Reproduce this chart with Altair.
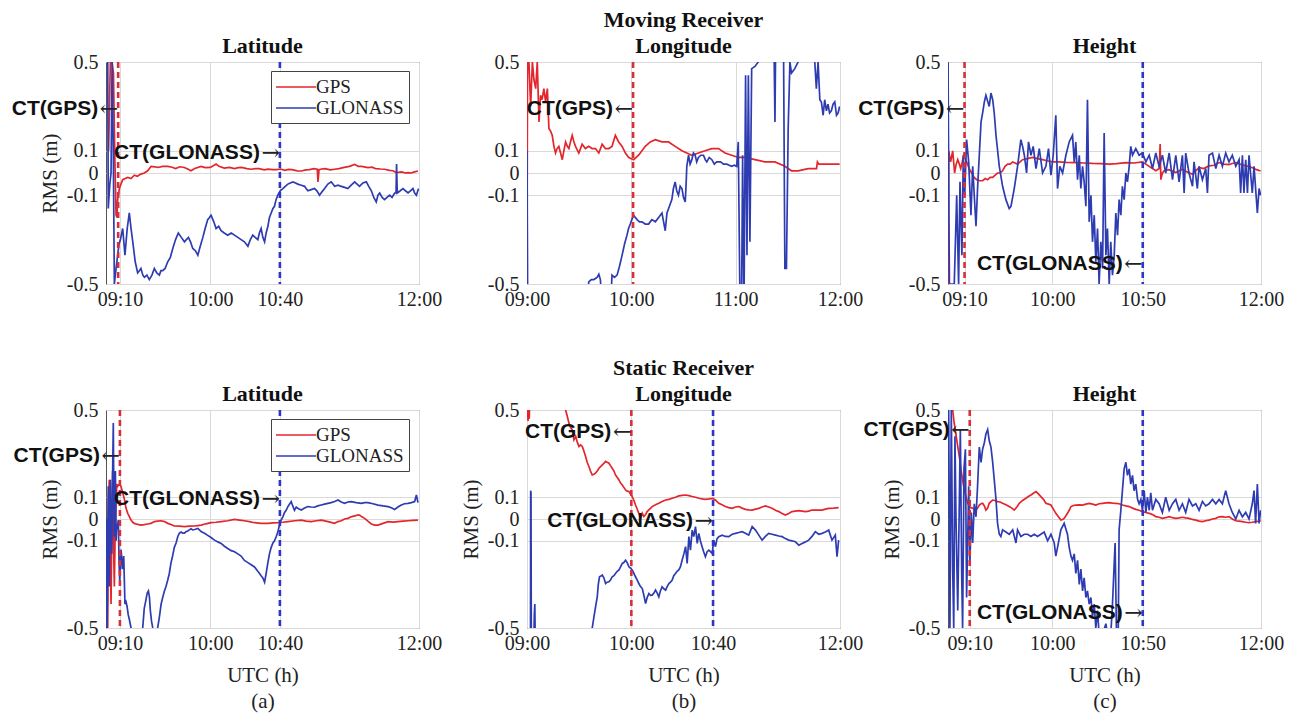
import altair as alt
import pandas as pd

# ---------------- data: (minutes after 09:00, RMS in m) ----------------
TA_GPS = [(1.5, 0.1), (2.5, 0.5), (3.5, 0.5), (4.3, 0.45), (5.0, 0.1), (5.8, -0.19), (6.3, -0.2), (6.7, -0.12), (7.7, -0.07), (8.6, -0.05), (9.6, -0.03), (11, -0.025), (12.5, -0.02), (14.4, -0.025), (16.3, -0.01), (18, -0.015), (20.1, -0.005), (22, 0.0), (24, 0.01), (25.9, 0.03), (28, 0.028), (30, 0.025), (32.5, 0.03), (35.5, 0.03), (38, 0.026), (40, 0.02), (42.5, 0.028), (45.1, 0.025), (47, 0.018), (48.9, 0.01), (51, 0.02), (54.7, 0.03), (57, 0.024), (60, 0.025), (63.3, 0.04), (65, 0.03), (68, 0.022), (71, 0.025), (73.9, 0.02), (76, 0.024), (78, 0.025), (81, 0.02), (83.5, 0.017), (86, 0.02), (88, 0.02), (91, 0.014), (93.1, 0.017), (96, 0.015), (98, 0.015), (100.5, 0.018), (102.7, 0.012), (105, 0.016), (107, 0.015), (110, 0.01), (112.3, 0.009), (115, 0.014), (117, 0.015), (119.5, 0.02), (121.5, 0.017), (121.9, -0.04), (122.5, 0.015), (124, 0.018), (126, 0.02), (129, 0.014), (131.5, 0.017), (134, 0.02), (137, 0.025), (140, 0.03), (143, 0.039), (145, 0.03), (147, 0.03), (150.6, 0.024), (153, 0.026), (155, 0.02), (158, 0.018), (160.2, 0.017), (163, 0.012), (165, 0.01), (167, 0.002), (170, 0.005), (172, 0.0), (173.7, 0.002), (175.5, 0.0), (177, 0.004), (179.4, 0.009)]
TA_GLO = [(0.5, 0.5), (1.0, 0.5), (1.3, -0.16), (2.2, -0.05), (2.9, 0.0), (3.5, 0.5), (4.2, 0.1), (4.8, -0.5), (5.5, -0.45), (6.7, -0.37), (7.5, -0.32), (8.3, -0.30), (9.6, -0.25), (10.9, -0.37), (12.2, -0.25), (13.4, -0.18), (14.4, -0.25), (15.4, -0.31), (16.8, -0.4), (18.2, -0.45), (19.2, -0.44), (20.1, -0.43), (21.2, -0.46), (22.1, -0.47), (23.5, -0.46), (24.9, -0.48), (26.4, -0.46), (27.8, -0.43), (29.2, -0.45), (30.7, -0.46), (31.6, -0.44), (32.6, -0.44), (34, -0.43), (35.5, -0.40), (37, -0.38), (38.4, -0.34), (40, -0.30), (41.6, -0.27), (43.3, -0.29), (45.1, -0.31), (46.2, -0.30), (47.4, -0.29), (48.6, -0.31), (49.9, -0.34), (51.4, -0.35), (52.8, -0.37), (54.2, -0.33), (55.7, -0.29), (57, -0.25), (58.5, -0.21), (59.5, -0.20), (60.4, -0.19), (62, -0.22), (63.3, -0.25), (64.8, -0.24), (66.2, -0.26), (68, -0.27), (70, -0.28), (72, -0.27), (73.9, -0.28), (75.8, -0.29), (77.7, -0.30), (79.6, -0.31), (81.6, -0.33), (83, -0.30), (84.4, -0.28), (85.8, -0.29), (87.3, -0.30), (88.2, -0.27), (89.2, -0.25), (90.2, -0.29), (91.2, -0.31), (92.1, -0.27), (93.1, -0.24), (94, -0.20), (95, -0.18), (96, -0.16), (96.9, -0.15), (97.8, -0.12), (98.8, -0.10), (100.2, -0.08), (101.7, -0.07), (103.1, -0.06), (104.6, -0.05), (106, -0.045), (107.5, -0.04), (109, -0.045), (110.3, -0.05), (112.3, -0.055), (114.2, -0.06), (115.1, -0.07), (116.1, -0.08), (118, -0.075), (119.9, -0.07), (121.3, -0.08), (122.8, -0.10), (124.2, -0.085), (125.7, -0.07), (127.6, -0.05), (129.5, -0.04), (130.5, -0.05), (131.5, -0.06), (133.4, -0.055), (135.3, -0.06), (137.2, -0.065), (139.1, -0.07), (141, -0.055), (143, -0.04), (144.4, -0.05), (145.8, -0.06), (147.7, -0.045), (149.7, -0.04), (151.1, -0.06), (152.6, -0.08), (154, -0.11), (155.4, -0.13), (156.4, -0.10), (157.4, -0.09), (158.8, -0.11), (160.2, -0.12), (161.6, -0.11), (163.1, -0.10), (164.5, -0.11), (166, -0.09), (166.8, -0.09), (167.1, 0.04), (167.5, -0.09), (169.2, -0.08), (170.8, -0.07), (172.2, -0.08), (173.7, -0.09), (175.1, -0.08), (176.5, -0.07), (177.5, -0.09), (178.5, -0.10), (179.3, -0.08), (179.8, -0.07)]

TB_GPS = [(0.0, -0.5), (0.3, 0.5), (1.1, 0.5), (2.1, 0.30), (3.1, 0.5), (4.0, 0.42), (5.0, 0.38), (5.9, 0.5), (6.9, 0.23), (7.8, 0.35), (8.7, 0.33), (9.7, 0.38), (10.7, 0.32), (11.7, 0.38), (12.6, 0.20), (13.5, 0.19), (14.5, 0.17), (15.5, 0.12), (16.4, 0.09), (17.3, 0.11), (18.3, 0.12), (19.3, 0.09), (20.3, 0.06), (21.2, 0.10), (22.2, 0.14), (23.2, 0.12), (24.1, 0.11), (25, 0.14), (26, 0.17), (27, 0.14), (27.9, 0.12), (29.8, 0.09), (31.7, 0.13), (33.6, 0.11), (35.5, 0.12), (37.5, 0.11), (39.4, 0.11), (41.3, 0.09), (43.2, 0.13), (45.1, 0.11), (47, 0.11), (48.9, 0.12), (50.8, 0.17), (52.7, 0.14), (54.7, 0.12), (56.6, 0.09), (58.5, 0.07), (61.3, 0.06), (64.2, 0.08), (66.1, 0.10), (68, 0.12), (70.9, 0.14), (73.8, 0.15), (77.6, 0.14), (81.4, 0.14), (85.2, 0.12), (89.1, 0.10), (91.9, 0.09), (94.8, 0.08), (98.6, 0.09), (102.4, 0.10), (106.3, 0.11), (110.1, 0.11), (113.9, 0.09), (117.7, 0.08), (121.5, 0.07), (125.4, 0.07), (131.1, 0.06), (136.8, 0.05), (142.6, 0.05), (148.3, 0.03), (152.1, 0.01), (155.9, 0.01), (161.7, 0.02), (165.5, 0.02), (166.5, 0.02), (167, 0.05), (167.8, 0.04), (173.1, 0.04), (179.8, 0.04)]
TB_GLO = [(0.0, 0.1), (0.4, -0.6), (35.0, -0.6), (35.5, -0.49), (37, -0.48), (38.4, -0.48), (40.3, -0.47), (41.3, -0.456), (42.2, -0.48), (43.2, -0.6), (48, -0.6), (48.9, -0.46), (50.3, -0.47), (51.8, -0.46), (53.2, -0.42), (54.7, -0.37), (56.1, -0.32), (57.5, -0.28), (58.4, -0.25), (59.4, -0.23), (60.3, -0.21), (61.3, -0.19), (62.3, -0.2), (63.3, -0.21), (64.7, -0.22), (66.1, -0.22), (68, -0.23), (69.9, -0.23), (71.8, -0.21), (73.8, -0.22), (75.7, -0.2), (77.6, -0.18), (79.5, -0.26), (80.5, -0.18), (81.9, -0.15), (83.3, -0.12), (84.2, -0.07), (85.2, -0.04), (86.1, -0.08), (87.1, -0.10), (88.1, -0.06), (89.1, -0.07), (90, -0.11), (91, -0.13), (91.5, -0.05), (91.9, 0.03), (92.9, 0.08), (93.8, 0.04), (94.8, 0.06), (95.7, 0.09), (96.7, 0.08), (97.6, 0.05), (98.6, 0.07), (100, 0.08), (101.5, 0.08), (102.5, 0.06), (103.4, 0.05), (104.8, 0.07), (106.3, 0.06), (107.7, 0.04), (109.1, 0.05), (111.3, 0.05), (113, 0.04), (114.9, 0.04), (116.3, 0.035), (117.7, 0.03), (119.2, 0.035), (120.6, 0.03), (121.5, 0.14), (122.5, -0.6), (123.4, -0.6), (124.0, 0.08), (124.8, -0.6), (125.7, 0.44), (126.5, -0.37), (127.3, 0.44), (128.2, -0.31), (129.2, 0.47), (131.1, 0.48), (133, 0.5), (134, 0.6), (142, 0.6), (142.6, 0.23), (143, 0.6), (144, 0.6), (147.5, 0.6), (148.3, -0.43), (149.2, -0.43), (150.2, 0.2), (151.2, 0.5), (152.1, 0.45), (154, 0.47), (155.9, 0.5), (157.8, 0.6), (165, 0.6), (165.5, 0.5), (166.4, 0.38), (167.4, 0.5), (168.4, 0.33), (169.3, 0.32), (170.3, 0.26), (171.2, 0.33), (172.2, 0.28), (173.1, 0.31), (174, 0.27), (175, 0.28), (176, 0.31), (177, 0.32), (178, 0.26), (178.9, 0.27), (179.8, 0.30)]

TC_GPS = [(0.1, -0.5), (0.4, 0.1), (1.5, 0.05), (2.7, 0.1), (3.8, 0.0), (4.7, 0.04), (5.6, 0.06), (6.5, 0.04), (7.3, 0.02), (8.2, 0.05), (9.0, 0.08), (10.7, 0.05), (12.2, 0.02), (13.6, 0.0), (15, -0.02), (16.5, -0.03), (18.2, -0.035), (19.9, -0.035), (21.4, -0.025), (22.8, -0.03), (24.3, -0.02), (25.7, -0.02), (27.1, -0.01), (28.5, 0.0), (30, 0.0), (31.4, 0.01), (32.8, 0.03), (34.3, 0.04), (35.8, 0.04), (37.2, 0.05), (38.6, 0.045), (40, 0.04), (41.4, 0.05), (42.9, 0.06), (45.7, 0.065), (48.6, 0.07), (51.5, 0.065), (54.4, 0.06), (57, 0.055), (60, 0.05), (64, 0.05), (68, 0.048), (73.5, 0.047), (78, 0.045), (83.1, 0.043), (88, 0.042), (92.7, 0.04), (97, 0.042), (102.3, 0.047), (107, 0.045), (111.8, 0.05), (115.7, 0.03), (119.5, 0.01), (121.5, 0.02), (122.0, 0.13), (122.4, -0.03), (123.3, 0.0), (124.3, 0.01), (127, 0.015), (131, 0.002), (134.8, 0.017), (137.5, 0.005), (140.6, -0.006), (142.5, 0.01), (144.4, 0.025), (147, 0.02), (150.1, 0.032), (153, 0.035), (155.9, 0.047), (158.5, 0.04), (161.6, 0.038), (163.5, 0.043), (165.5, 0.047), (168, 0.04), (171.2, 0.032), (173, 0.03), (175, 0.024), (177.5, 0.015), (179.8, 0.009)]
TC_GLO = [(0, 0.5), (0.8, -0.5), (3.6, -0.5), (5.0, -0.10), (6.1, -0.5), (6.9, -0.04), (8.0, -0.37), (8.8, 0.08), (9.6, -0.10), (10.7, 0.15), (11.9, 0.05), (13.2, -0.19), (14.2, 0.03), (15.1, -0.10), (16.1, -0.24), (17.0, -0.07), (18.0, 0.08), (19.0, 0.23), (19.9, 0.27), (20.9, 0.32), (21.8, 0.35), (23.7, 0.30), (24.7, 0.36), (25.7, 0.33), (26.6, 0.27), (27.6, 0.17), (29.5, 0.03), (31.4, -0.06), (33.3, -0.12), (35.2, -0.16), (36.2, -0.15), (38.1, -0.07), (40.0, 0.03), (41.9, 0.15), (42.9, 0.12), (43.9, 0.08), (45.2, 0.00), (46.3, 0.14), (47.7, 0.08), (49.0, 0.12), (50.6, 0.02), (52.5, 0.11), (54.4, 0.00), (56.3, 0.03), (57.8, 0.11), (59.2, -0.01), (60.5, 0.08), (62.0, 0.26), (63.0, -0.07), (64.3, 0.03), (65.9, 0.00), (67.8, 0.08), (69.7, 0.14), (71.6, 0.17), (72.6, 0.05), (73.5, 0.14), (74.5, -0.03), (75.5, 0.08), (76.4, -0.07), (77.4, 0.03), (78.3, -0.04), (79.3, -0.15), (80.2, 0.33), (81.2, -0.22), (82.2, -0.10), (83.1, -0.31), (84.1, -0.19), (85.0, -0.40), (86.0, -0.25), (86.9, -0.5), (87.9, -0.31), (88.9, -0.43), (89.8, 0.18), (90.8, -0.37), (91.7, -0.25), (92.7, -0.5), (93.6, -0.31), (94.6, -0.46), (95.6, -0.37), (96.5, -0.18), (97.5, -0.28), (98.4, -0.12), (99.4, -0.19), (100.3, -0.06), (101.3, -0.12), (102.3, 0.00), (103.2, -0.04), (104.2, 0.03), (105.1, 0.12), (106.1, 0.08), (108.0, 0.11), (109.9, 0.08), (111.8, 0.09), (113.8, 0.05), (115.7, 0.08), (117.6, 0.02), (119.5, 0.09), (121.4, 0.03), (123.3, 0.08), (125.2, 0.00), (127.2, 0.09), (129.1, -0.03), (131.0, 0.08), (132.9, -0.04), (134.8, 0.08), (135.8, -0.09), (136.7, 0.09), (138.6, 0.00), (140.6, -0.06), (141.5, 0.05), (143.4, -0.07), (144.4, 0.03), (146.3, -0.03), (148.2, 0.02), (149.2, -0.09), (150.1, 0.08), (152.1, 0.09), (154.0, 0.02), (155.9, 0.08), (157.8, 0.03), (159.7, 0.09), (161.6, 0.05), (163.5, 0.08), (165.5, 0.03), (167.4, 0.06), (168.3, -0.09), (169.3, 0.08), (170.2, -0.09), (171.2, 0.06), (172.2, -0.09), (173.1, 0.08), (175.0, -0.09), (176.0, 0.03), (177.9, -0.18), (178.9, -0.07), (179.8, -0.10)]

BA_GPS = [(0.5, -0.5), (1.0, -0.5), (1.5, 0.10), (1.9, 0.18), (2.4, -0.1), (2.9, -0.39), (3.4, 0.0), (3.8, 0.22), (4.3, -0.1), (4.8, -0.31), (5.3, -0.05), (5.8, 0.07), (6.2, 0.16), (6.7, 0.15), (7.7, 0.16), (8.6, 0.15), (9.6, 0.12), (10.6, 0.09), (11.5, 0.05), (12.5, 0.026), (13.5, 0.01), (14.4, -0.005), (15.4, -0.015), (16.3, -0.02), (18.2, -0.025), (20.1, -0.028), (22, -0.026), (24, -0.023), (25.9, -0.02), (27.8, -0.012), (29.7, -0.01), (31.7, -0.008), (33.6, -0.012), (35.5, -0.02), (37.4, -0.025), (39.3, -0.032), (42.2, -0.033), (45.1, -0.035), (48, -0.033), (50.9, -0.032), (52.8, -0.03), (54.7, -0.028), (57.5, -0.022), (60.4, -0.017), (63.3, -0.015), (66.2, -0.012), (70, -0.008), (73.9, -0.002), (76.7, -0.005), (79.6, -0.008), (82.5, -0.012), (85.4, -0.017), (89.2, -0.02), (93.1, -0.02), (96, -0.018), (98.8, -0.017), (101.7, -0.015), (104.6, -0.012), (108.5, -0.008), (112.3, -0.005), (115.1, -0.01), (118, -0.012), (121, -0.008), (123.8, -0.005), (127.7, -0.012), (131.5, -0.02), (133.4, -0.012), (135.3, -0.008), (137.2, 0.0), (139.1, 0.003), (141, 0.01), (143, 0.014), (144.4, 0.018), (145.8, 0.018), (147.2, 0.01), (148.7, 0.003), (150.6, -0.01), (152.6, -0.023), (154.5, -0.028), (156.4, -0.028), (159.3, -0.02), (162.2, -0.012), (165, -0.014), (167.9, -0.012), (170.8, -0.01), (173.7, -0.008), (176.5, -0.006), (179.4, -0.005)]
BA_GLO = [(0.3, 0.0), (0.6, -0.5), (1.0, -0.1), (1.3, 0.15), (1.9, -0.31), (2.5, 0.18), (2.9, -0.05), (3.3, -0.16), (3.8, 0.2), (4.2, 0.44), (4.5, 0.1), (4.8, -0.08), (5.1, 0.1), (5.4, 0.22), (5.8, -0.1), (6.1, -0.05), (6.6, -0.03), (7.1, -0.005), (7.5, -0.2), (7.9, -0.28), (8.3, -0.2), (8.6, -0.14), (9.0, -0.17), (9.4, -0.23), (9.8, -0.2), (10.2, -0.17), (10.9, -0.39), (11.5, -0.38), (12.1, -0.40), (12.8, -0.44), (13.4, -0.46), (14.4, -0.5), (14.8, -0.53), (20.5, -0.55), (21.1, -0.5), (22.0, -0.41), (23.0, -0.37), (23.7, -0.34), (24.4, -0.33), (25.0, -0.36), (25.5, -0.42), (26.2, -0.47), (26.9, -0.5), (27.8, -0.53), (29.7, -0.5), (30.7, -0.45), (31.7, -0.39), (32.6, -0.36), (33.6, -0.33), (34.5, -0.31), (35.5, -0.28), (36.4, -0.25), (37.4, -0.2), (38.3, -0.17), (39.3, -0.13), (40.3, -0.11), (41.3, -0.08), (42.2, -0.065), (43.2, -0.06), (44.1, -0.065), (45.1, -0.065), (46, -0.058), (47, -0.055), (47.9, -0.05), (48.9, -0.045), (49.9, -0.05), (50.9, -0.048), (51.8, -0.046), (52.8, -0.043), (53.7, -0.05), (54.7, -0.058), (56.6, -0.065), (58.5, -0.075), (60.4, -0.085), (62.4, -0.097), (64.3, -0.105), (66.2, -0.112), (68.1, -0.125), (70, -0.135), (72, -0.145), (73.9, -0.15), (75.8, -0.16), (77.7, -0.17), (79.6, -0.19), (81.6, -0.2), (83.5, -0.21), (85.4, -0.22), (87.3, -0.24), (88.3, -0.25), (89.2, -0.26), (90.2, -0.27), (91.2, -0.29), (92.1, -0.25), (93.1, -0.20), (94, -0.16), (95, -0.13), (96, -0.11), (96.9, -0.10), (97.9, -0.08), (98.8, -0.06), (99.7, -0.03), (100.7, -0.005), (101.7, 0.01), (102.7, 0.03), (103.6, 0.04), (104.6, 0.057), (105.5, 0.068), (106.5, 0.08), (107.4, 0.06), (108.4, 0.04), (109.4, 0.055), (110.3, 0.049), (111.3, 0.045), (112.3, 0.041), (114.2, 0.05), (116.1, 0.057), (118, 0.055), (119.9, 0.054), (121.8, 0.06), (123.8, 0.064), (125.7, 0.068), (127.6, 0.072), (129.5, 0.075), (131.5, 0.08), (133.4, 0.087), (135.3, 0.078), (137.2, 0.072), (139.1, 0.078), (141, 0.08), (143.9, 0.075), (146.8, 0.072), (148.7, 0.075), (150.6, 0.075), (153.5, 0.07), (156.4, 0.064), (159.3, 0.06), (162.2, 0.057), (164.1, 0.052), (166, 0.044), (167.9, 0.055), (169.8, 0.064), (171.7, 0.07), (173.7, 0.072), (175.6, 0.075), (177.5, 0.08), (178.5, 0.11), (179.4, 0.075)]

BB_GPS = [(0.0, 0.6), (0.3, 0.5), (0.6, 0.45), (0.9, 0.55), (1.3, 0.46), (1.6, 0.6), (21.5, 0.6), (22.2, 0.5), (23.2, 0.47), (24.1, 0.44), (25, 0.42), (26.0, 0.41), (27.0, 0.363), (28.0, 0.379), (29, 0.35), (29.9, 0.333), (30.8, 0.34), (31.8, 0.333), (32.8, 0.31), (33.7, 0.287), (34.6, 0.26), (35.6, 0.241), (36.5, 0.22), (37.5, 0.202), (38.5, 0.205), (39.4, 0.21), (40.4, 0.22), (41.4, 0.233), (42.3, 0.24), (43.3, 0.248), (44.2, 0.255), (45.2, 0.264), (46.1, 0.26), (47.1, 0.256), (48, 0.245), (49.0, 0.233), (50, 0.22), (50.9, 0.202), (51.9, 0.19), (52.9, 0.179), (53.8, 0.165), (54.8, 0.156), (55.7, 0.145), (56.7, 0.133), (57.6, 0.128), (58.6, 0.126), (59.5, 0.115), (60.5, 0.103), (61.5, 0.085), (62.4, 0.064), (63.4, 0.045), (64.3, 0.026), (65.3, 0.003), (66.3, 0.026), (67.2, 0.011), (68.2, 0.02), (69.1, 0.034), (70.5, 0.045), (72.0, 0.057), (73.9, 0.065), (75.8, 0.072), (77.7, 0.08), (79.7, 0.087), (81.6, 0.09), (83.5, 0.095), (85.4, 0.1), (87.3, 0.106), (89.2, 0.108), (91.2, 0.11), (93.1, 0.107), (95.0, 0.103), (96.9, 0.1), (98.8, 0.095), (100.7, 0.092), (102.6, 0.09), (104.8, 0.092), (107.0, 0.095), (108.6, 0.085), (110.3, 0.072), (112.2, 0.065), (114.1, 0.057), (116, 0.052), (118.0, 0.049), (119.9, 0.055), (121.8, 0.057), (123.7, 0.05), (125.6, 0.044), (127.5, 0.042), (129.5, 0.041), (131.4, 0.045), (133.3, 0.049), (135.2, 0.055), (137.1, 0.06), (139, 0.055), (140.9, 0.049), (142.9, 0.04), (144.8, 0.034), (146.7, 0.025), (148.6, 0.018), (150.5, 0.025), (152.4, 0.034), (154.3, 0.036), (156.3, 0.038), (158.2, 0.036), (160.1, 0.034), (162, 0.036), (163.9, 0.041), (166.8, 0.041), (169.7, 0.041), (171.6, 0.045), (173.5, 0.049), (176.4, 0.05), (179.2, 0.052)]
BB_GLO = [(0, -0.6), (2.0, -0.6), (2.1, 0.13), (2.3, 0.12), (2.5, -0.6), (3.8, -0.6), (4.2, -0.44), (4.5, -0.39), (4.8, -0.6), (37.0, -0.6), (37.5, -0.5), (38.5, -0.449), (39.5, -0.4), (40.4, -0.357), (41.0, -0.3), (41.7, -0.265), (42.5, -0.262), (43.3, -0.257), (44.2, -0.27), (45.2, -0.296), (46.1, -0.29), (47.1, -0.288), (48, -0.28), (49.0, -0.265), (50, -0.26), (50.9, -0.25), (51.9, -0.24), (52.9, -0.234), (53.8, -0.22), (54.8, -0.204), (55.7, -0.2), (56.7, -0.189), (57.6, -0.2), (58.6, -0.219), (59.5, -0.225), (60.5, -0.234), (61.5, -0.25), (62.4, -0.265), (63.4, -0.28), (64.3, -0.296), (65.3, -0.31), (66.3, -0.319), (67.2, -0.35), (68.2, -0.388), (69.1, -0.36), (70.1, -0.342), (71, -0.35), (72.0, -0.349), (73.0, -0.34), (73.9, -0.326), (74.9, -0.34), (75.8, -0.357), (76.7, -0.33), (77.7, -0.311), (78.7, -0.32), (79.7, -0.326), (80.6, -0.31), (81.6, -0.296), (82.5, -0.29), (83.5, -0.28), (84.4, -0.26), (85.4, -0.25), (86.3, -0.24), (87.3, -0.234), (88.2, -0.22), (89.2, -0.189), (90.2, -0.16), (91.2, -0.127), (92.1, -0.204), (93.1, -0.081), (94.0, -0.143), (95.0, -0.051), (95.9, -0.081), (96.9, -0.035), (97.9, -0.112), (98.8, -0.066), (99.7, -0.1), (100.7, -0.127), (101.6, -0.15), (102.6, -0.173), (103.6, -0.15), (104.6, -0.143), (105.5, -0.15), (106.5, -0.158), (107.4, -0.097), (108.4, -0.127), (109.3, -0.09), (110.3, -0.081), (112.2, -0.074), (114.1, -0.08), (116.0, -0.081), (118, -0.07), (119.9, -0.066), (121.8, -0.062), (123.7, -0.058), (125.6, -0.065), (127.5, -0.074), (129.5, -0.035), (131.4, -0.051), (133.3, -0.074), (135.2, -0.097), (137.1, -0.08), (139.0, -0.066), (140.9, -0.07), (142.9, -0.074), (144.8, -0.078), (146.7, -0.081), (148.6, -0.09), (150.5, -0.097), (152.4, -0.1), (154.3, -0.104), (156.3, -0.12), (158.2, -0.112), (160.1, -0.105), (162.0, -0.097), (163.9, -0.08), (165.8, -0.058), (167.8, -0.07), (169.7, -0.066), (171.6, -0.06), (173.5, -0.051), (175.4, -0.097), (177.3, -0.074), (178.3, -0.173), (179.2, -0.097)]

BC_GPS = [(1.5, 0.6), (2.7, 0.5), (3.4, 0.45), (4.2, 0.409), (4.9, 0.37), (5.6, 0.333), (6.5, 0.287), (7.5, 0.225), (8.4, 0.179), (9.4, 0.133), (10.3, 0.103), (11.3, 0.072), (12.3, 0.057), (13.2, 0.052), (14.2, 0.049), (15.1, 0.045), (16.1, 0.041), (17.0, 0.05), (18.0, 0.064), (19.0, 0.07), (19.9, 0.072), (20.9, 0.06), (21.8, 0.041), (22.8, 0.05), (23.7, 0.072), (24.7, 0.08), (25.7, 0.087), (27.1, 0.085), (28.5, 0.08), (30, 0.078), (31.4, 0.072), (33.3, 0.065), (35.2, 0.057), (36.7, 0.05), (38.1, 0.041), (39.6, 0.055), (41.0, 0.072), (42.9, 0.085), (44.8, 0.095), (46.2, 0.103), (47.7, 0.11), (49.1, 0.118), (50.6, 0.126), (52, 0.115), (53.4, 0.103), (54.9, 0.09), (56.3, 0.072), (57.8, 0.068), (59.2, 0.064), (60.6, 0.045), (62.0, 0.026), (63.5, 0.01), (64.9, -0.005), (65.9, -0.002), (66.8, 0.003), (67.8, 0.015), (68.7, 0.026), (69.7, 0.04), (70.7, 0.057), (72.1, 0.062), (73.5, 0.064), (75.5, 0.065), (77.4, 0.064), (79.3, 0.068), (81.2, 0.072), (83.1, 0.068), (85.0, 0.064), (86.9, 0.07), (88.9, 0.072), (90.8, 0.074), (92.7, 0.075), (94.6, 0.073), (96.5, 0.072), (98.4, 0.07), (100.3, 0.064), (102.3, 0.06), (104.2, 0.057), (106.1, 0.05), (108.0, 0.044), (109.9, 0.04), (111.8, 0.034), (113.8, 0.03), (115.7, 0.026), (117.6, 0.02), (119.5, 0.011), (121.4, 0.008), (123.3, 0.003), (125.2, 0.006), (127.2, 0.011), (129.1, 0.006), (131.0, 0.003), (132.9, 0.005), (134.8, 0.008), (136.7, 0.005), (138.6, 0.003), (140.5, -0.002), (142.5, -0.005), (144.4, -0.01), (146.3, -0.012), (148.2, -0.008), (150.1, -0.005), (152.1, 0.0), (154.0, 0.003), (155.9, 0.01), (157.8, 0.011), (159.7, 0.008), (161.6, 0.011), (163.5, 0.0), (165.5, -0.008), (167.4, -0.01), (169.3, -0.012), (171.2, -0.015), (173.1, -0.017), (175.0, -0.015), (177.0, -0.012), (179.8, -0.008)]
BC_GLO = [(0.0, 0.5), (0.4, 0.5), (1.1, -0.5), (1.9, 0.5), (2.7, -0.23), (3.3, -0.5), (4.0, 0.38), (4.6, 0.0), (5.6, -0.42), (6.5, 0.07), (7.1, 0.41), (7.9, -0.27), (8.4, -0.5), (9.2, 0.23), (10.0, 0.32), (10.7, -0.36), (11.3, -0.11), (11.9, 0.15), (12.6, -0.2), (13.4, 0.03), (14.2, -0.11), (15.1, 0.07), (16.1, 0.01), (17.0, 0.15), (18.0, 0.33), (19.0, 0.26), (19.9, 0.32), (20.9, 0.35), (21.8, 0.39), (22.8, 0.41), (23.7, 0.36), (24.7, 0.33), (25.7, 0.26), (26.6, 0.18), (27.6, 0.09), (28.5, -0.02), (29.5, -0.07), (30.4, -0.08), (31.4, -0.05), (33.3, -0.06), (35.2, -0.07), (37.2, -0.05), (39.1, -0.11), (40.0, -0.05), (41.9, -0.08), (43.9, -0.07), (45.8, -0.07), (47.7, -0.08), (49.6, -0.07), (51.5, -0.08), (53.4, -0.07), (55.3, -0.06), (57.3, -0.1), (59.2, -0.07), (61.1, -0.11), (62.0, -0.17), (63.0, -0.13), (64.9, -0.05), (66.8, -0.02), (68.7, -0.07), (69.7, -0.13), (70.7, -0.17), (71.6, -0.19), (72.6, -0.16), (73.5, -0.25), (74.5, -0.19), (75.5, -0.30), (76.4, -0.23), (77.4, -0.33), (78.3, -0.27), (79.3, -0.36), (80.2, -0.33), (81.2, -0.39), (82.2, -0.36), (83.1, -0.45), (84.1, -0.39), (85.0, -0.5), (86.0, -0.42), (86.9, -0.53), (88.9, -0.53), (90.8, -0.48), (91.7, -0.53), (93.6, -0.53), (94.6, -0.39), (95.6, -0.2), (96.1, -0.11), (96.9, -0.53), (97.9, -0.53), (98.4, -0.05), (99.4, 0.04), (100.3, 0.13), (101.3, 0.23), (102.3, 0.26), (103.2, 0.2), (104.2, 0.23), (105.1, 0.16), (106.1, 0.2), (107.0, 0.13), (108.0, 0.16), (109.0, 0.09), (109.9, 0.07), (110.9, 0.09), (111.8, 0.04), (112.8, 0.13), (113.8, 0.03), (114.7, 0.1), (115.7, 0.04), (116.6, 0.12), (117.6, 0.04), (119.5, 0.09), (121.4, 0.07), (123.3, 0.03), (125.2, 0.1), (127.2, 0.04), (129.1, 0.07), (131.0, 0.09), (132.9, 0.04), (134.8, 0.07), (136.7, 0.03), (138.6, 0.09), (140.6, 0.06), (142.5, 0.07), (144.4, 0.04), (146.3, 0.08), (148.2, 0.06), (150.1, 0.07), (152.1, 0.09), (154.0, 0.07), (155.9, 0.09), (157.8, 0.07), (159.7, 0.13), (161.6, 0.07), (163.5, 0.03), (165.5, 0.0), (167.4, 0.04), (169.3, 0.01), (171.2, 0.03), (173.1, 0.0), (175.0, 0.07), (176.0, 0.13), (176.9, -0.02), (177.9, 0.16), (178.9, -0.02), (179.8, 0.04)]

# convergence times (minutes after 09:00): (GPS, GLONASS)
CT_TA = (7, 100)
CT_TB = (61, None)
CT_TC = (9.5, 112)
CT_BA = (8, 100)
CT_BB = (60, 107)
CT_BC = (12.5, 112)

# annotations: (minute, RMS height, label, arrow)
ANN_TA = [(7, 0.29, "CT(GPS)", "←"), (100, 0.09, "CT(GLONASS)", "→")]
ANN_TB = [(61, 0.29, "CT(GPS)", "←")]
ANN_TC = [(9.5, 0.29, "CT(GPS)", "←"), (112, -0.41, "CT(GLONASS)", "←")]
ANN_BA = [(8, 0.29, "CT(GPS)", "←"), (100, 0.094, "CT(GLONASS)", "→")]
ANN_BB = [(60, 0.40, "CT(GPS)", "←"), (107, -0.01, "CT(GLONASS)", "→")]
ANN_BC = [(12.5, 0.41, "CT(GPS)", "←"), (112, -0.43, "CT(GLONASS)", "→")]

# axis ticks
Y_TICKS = [-0.5, -0.1, 0, 0.1, 0.5]
Y_LABELS = ["-0.5", "-0.1", "0", "0.1", "0.5"]
XT_TA, XL_TA = [8, 60, 100, 180], ["09:10", "10:00", "10:40", "12:00"]
XT_TB, XL_TB = [0, 60, 120, 180], ["09:00", "10:00", "11:00", "12:00"]
XT_TC, XL_TC = [9.5, 60, 112, 180], ["09:10", "10:00", "10:50", "12:00"]
XT_BA, XL_BA = [8, 60, 100, 180], ["09:10", "10:00", "10:40", "12:00"]
XT_BB, XL_BB = [0, 60, 107, 180], ["09:00", "10:00", "10:40", "12:00"]
XT_BC, XL_BC = [12.5, 60, 112, 180], ["09:10", "10:00", "10:50", "12:00"]

SYSTEMS = ["GPS", "GLONASS"]

# ---------------- style ----------------
RED, BLUE = "#e2262c", "#2e3cb2"
RED_D, BLUE_D = "#d6303a", "#2f36c6"
SERIF = "Liberation Serif"
SANS = "Liberation Sans"
W = 313


def label_expr(values, labels):
    expr = "''"
    for v, l in reversed(list(zip(values, labels))):
        expr = f"abs(datum.value - ({v})) < 0.001 ? '{l}' : {expr}"
    return expr


def panel(gps, glo, ct, xt, xl, title, ann, legend, ytitle, xtitle, h):
    gdf = pd.DataFrame(gps, columns=["t", "v"])
    gdf["sys"] = SYSTEMS[0]
    ldf = pd.DataFrame(glo, columns=["t", "v"])
    ldf["sys"] = SYSTEMS[1]

    x = alt.X("t:Q", scale=alt.Scale(domain=[0, 180], nice=False, zero=False),
              axis=alt.Axis(values=xt, labelExpr=label_expr(xt, xl), grid=True, labelFlush=False,
                            title=xtitle))
    y = alt.Y("v:Q", scale=alt.Scale(domain=[-0.5, 0.5], nice=False, zero=False),
              axis=alt.Axis(values=Y_TICKS, labelExpr=label_expr(Y_TICKS, Y_LABELS), grid=True,
                            labelFlush=False, title=ytitle))
    if legend:
        leg = alt.Legend(title=None, orient="none", legendX=165, legendY=9, symbolType="M-2,0H2",
                         symbolSize=400, symbolStrokeWidth=1.5, symbolOffset=9, labelFont=SERIF,
                         labelFontSize=19, labelColor="#222", strokeColor="#444", fillColor="white",
                         padding=5, rowPadding=-3, labelOffset=9, cornerRadius=0)
    else:
        leg = None
    color = alt.Color("sys:N", scale=alt.Scale(domain=SYSTEMS, range=[RED, BLUE]), legend=leg)

    l_gps = alt.Chart(gdf).mark_line(clip=True, strokeWidth=1.7).encode(x=x, y=y, color=color)
    l_glo = alt.Chart(ldf).mark_line(clip=True, strokeWidth=1.7).encode(x=x, y=y, color=color)
    layers = [l_gps, l_glo]

    rdf = pd.DataFrame({"t": [ct[0]]})
    layers.append(alt.Chart(rdf).mark_rule(color=RED_D, strokeDash=[6, 4], strokeWidth=2.6).encode(x="t:Q"))
    if ct[1] is not None:
        bdf = pd.DataFrame({"t": [ct[1]]})
        layers.append(alt.Chart(bdf).mark_rule(color=BLUE_D, strokeDash=[6, 4], strokeWidth=2.6).encode(x="t:Q"))

    adf = pd.DataFrame(ann, columns=["t", "v", "label", "arrow"])
    layers.append(alt.Chart(adf).mark_text(align="right", baseline="middle", font=SANS, fontSize=21,
                                           fontWeight="bold", color="#111", dx=-20)
                  .encode(x="t:Q", y="v:Q", text="label:N"))
    layers.append(alt.Chart(adf).mark_text(align="right", baseline="middle", font="DejaVu Serif",
                                           fontSize=22, color="#222", dx=0)
                  .encode(x="t:Q", y="v:Q", text="arrow:N"))

    return alt.layer(*layers).properties(
        width=W, height=h,
        title=alt.TitleParams(text=title, font=SERIF, fontSize=22, fontWeight="bold", color="#111",
                              offset=-6, lineHeight=26, anchor="middle"))


pa = panel(TA_GPS, TA_GLO, CT_TA, XT_TA, XL_TA, "Latitude", ANN_TA, True, "RMS (m)", None, 222)
pb = panel(TB_GPS, TB_GLO, CT_TB, XT_TB, XL_TB, ["Moving Receiver", "Longitude"], ANN_TB, False, None, None, 222)
pc = panel(TC_GPS, TC_GLO, CT_TC, XT_TC, XL_TC, "Height", ANN_TC, False, None, None, 222)
qa = panel(BA_GPS, BA_GLO, CT_BA, XT_BA, XL_BA, "Latitude", ANN_BA, True, "RMS (m)", ["UTC (h)", "(a)"], 218)
qb = panel(BB_GPS, BB_GLO, CT_BB, XT_BB, XL_BB, ["Static Receiver", "Longitude"], ANN_BB, False, "RMS (m)", ["UTC (h)", "(b)"], 218)
qc = panel(BC_GPS, BC_GLO, CT_BC, XT_BC, XL_BC, "Height", ANN_BC, False, "RMS (m)", ["UTC (h)", "(c)"], 218)

chart = (
    alt.concat(pa, pb, pc, qa, qb, qc, columns=3, spacing={"row": 126, "column": 108}, bounds="flush")
    .resolve_scale(color="independent")
    .resolve_legend(color="independent")
    .properties(padding={"left": 3, "top": 0, "right": 5, "bottom": 2}, background="white")
    .configure_view(stroke="#555555", strokeWidth=1)
    .configure_axis(labelFont=SERIF, labelFontSize=20, labelColor="#222", titleFont=SERIF,
                    titleFontSize=21, titleColor="#222", titleFontWeight="normal",
                    gridColor="#d9d9d9", gridWidth=1, domain=False, ticks=False)
    .configure_axisX(labelPadding=5, titlePadding=11, titleLineHeight=26)
    .configure_axisY(labelPadding=8, titlePadding=6)
)

chart.save("out.html", embed_options={"renderer": "svg", "actions": False})
